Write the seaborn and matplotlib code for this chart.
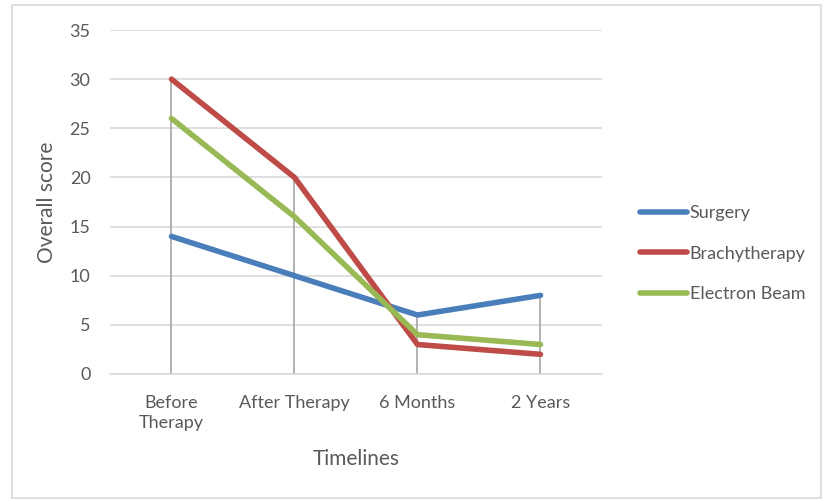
import numpy as np
import pandas as pd
import matplotlib.pyplot as plt
import seaborn as sns
from matplotlib.patches import Rectangle

timelines = ['Before\nTherapy', 'After Therapy', '6 Months', '2 Years']
surgery = [14, 10, 6, 8]
brachy = [30, 20, 3, 2]
electron = [26, 16, 4, 3]
series = ['Surgery', 'Brachytherapy', 'Electron Beam']
colors = ['#4A7EBB', '#BE4B48', '#98B954']

df = pd.DataFrame({'Timeline': timelines * 3,
                   'pos': list(range(4)) * 3,
                   'score': surgery + brachy + electron,
                   'Series': [s for s in series for _ in range(4)]})

sns.set_style('white')
plt.rcParams['font.family'] = ['Lato', 'DejaVu Sans']
txt = '#595959'

fig = plt.figure(figsize=(8.25, 5.01), dpi=100)
ax = fig.add_axes([0.1333, 0.2535, 0.5964, 0.6866])

# drop lines from the highest point down to the axis
top = df.groupby('pos')['score'].max()
ax.vlines(top.index, 0, top.values, color='#A6A6A6', lw=1.2, zorder=1)

sns.lineplot(data=df, x='pos', y='score', hue='Series', palette=colors,
             lw=4, ax=ax, legend=True, zorder=3)

ax.set_xlim(-0.5, 3.5)
ax.set_ylim(0, 35)
ax.set_yticks(range(0, 36, 5))
ax.set_xticks(range(4))
ax.set_xticklabels(timelines, linespacing=1.3)
ax.grid(axis='y', color='#D9D9D9', lw=1.2)
ax.set_axisbelow(True)
for s in ['top', 'right', 'left']:
    ax.spines[s].set_visible(False)
ax.spines['bottom'].set_color('#D9D9D9')
ax.spines['bottom'].set_linewidth(1.2)
ax.tick_params(axis='both', length=0, labelsize=13, colors=txt)
ax.tick_params(axis='x', pad=15)
ax.tick_params(axis='y', pad=14)
ax.set_xlabel('Timelines', fontsize=15, color=txt, labelpad=13)
ax.set_ylabel('Overall score', fontsize=15, color=txt, labelpad=9)

leg = ax.legend(loc='center left', bbox_to_anchor=(1.045, 0.35), frameon=False,
                fontsize=13, labelspacing=1.35, handlelength=2.6,
                handletextpad=0.12, labelcolor=txt)
for h in leg.get_lines():
    h.set_linewidth(4)

fig.add_artist(Rectangle((12 / 825, 3 / 501), 809 / 825, 493 / 501,
                         transform=fig.transFigure, fill=False,
                         edgecolor='#D9D9D9', lw=1.2))

fig.savefig('out.png', dpi=100)
